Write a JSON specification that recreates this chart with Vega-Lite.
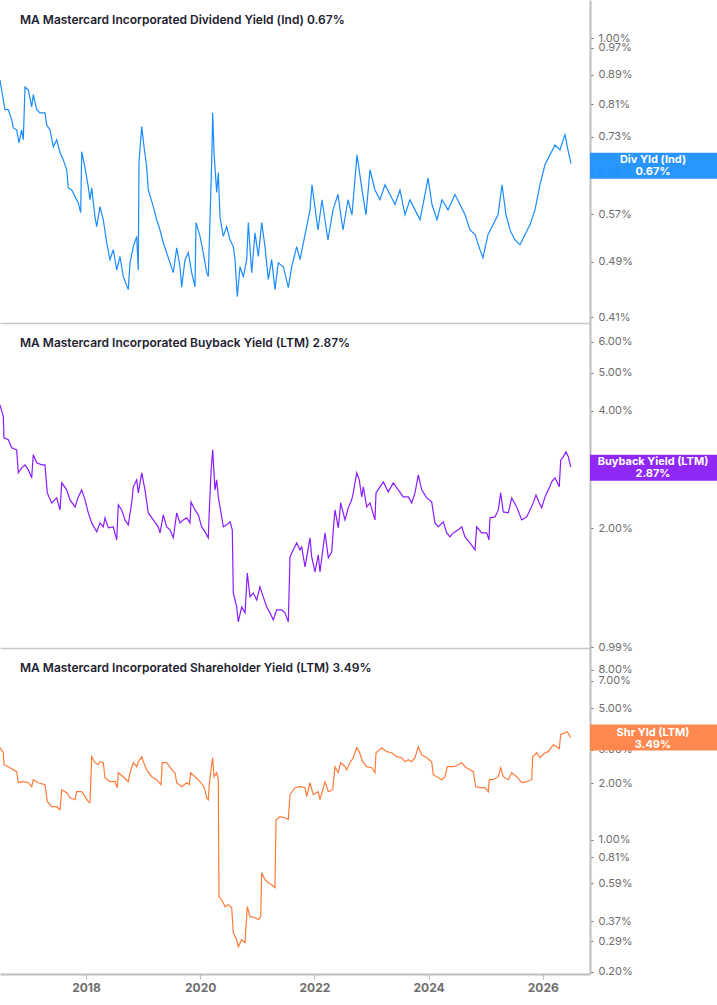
{
  "$schema": "https://vega.github.io/schema/vega-lite/v6.json",
  "padding": 0,
  "autosize": {"type": "pad"},
  "background": "white",
  "spacing": 0,
  "bounds": "flush",
  "config": {"view": {"stroke": null}, "font": "Inter"},
  "datasets": {
    "div": [
      {"t":2016.494,"v":0.875},{"t":2016.552,"v":0.821},{"t":2016.582,"v":0.796},{"t":2016.639,"v":0.796},{"t":2016.699,"v":0.771},{"t":2016.727,"v":0.751},{"t":2016.786,"v":0.746},{"t":2016.827,"v":0.716},{"t":2016.874,"v":0.746},{"t":2016.902,"v":0.723},{"t":2016.932,"v":0.856},{"t":2016.990,"v":0.848},{"t":2017.049,"v":0.803},{"t":2017.077,"v":0.835},{"t":2017.137,"v":0.796},{"t":2017.195,"v":0.788},{"t":2017.282,"v":0.788},{"t":2017.312,"v":0.758},{"t":2017.370,"v":0.746},{"t":2017.428,"v":0.707},{"t":2017.487,"v":0.723},{"t":2017.545,"v":0.694},{"t":2017.603,"v":0.678},{"t":2017.662,"v":0.657},{"t":2017.690,"v":0.620},{"t":2017.750,"v":0.616},{"t":2017.808,"v":0.603},{"t":2017.865,"v":0.591},{"t":2017.907,"v":0.573},{"t":2017.925,"v":0.696},{"t":2017.983,"v":0.661},{"t":2018.040,"v":0.622},{"t":2018.070,"v":0.597},{"t":2018.100,"v":0.620},{"t":2018.158,"v":0.565},{"t":2018.188,"v":0.548},{"t":2018.245,"v":0.584},{"t":2018.303,"v":0.560},{"t":2018.363,"v":0.520},{"t":2018.420,"v":0.493},{"t":2018.478,"v":0.509},{"t":2018.538,"v":0.477},{"t":2018.596,"v":0.498},{"t":2018.653,"v":0.467},{"t":2018.741,"v":0.448},{"t":2018.771,"v":0.488},{"t":2018.829,"v":0.514},{"t":2018.888,"v":0.531},{"t":2018.916,"v":0.477},{"t":2018.928,"v":0.672},{"t":2018.976,"v":0.754},{"t":2019.016,"v":0.707},{"t":2019.063,"v":0.663},{"t":2019.091,"v":0.616},{"t":2019.179,"v":0.584},{"t":2019.238,"v":0.560},{"t":2019.296,"v":0.542},{"t":2019.354,"v":0.520},{"t":2019.413,"v":0.504},{"t":2019.471,"v":0.488},{"t":2019.529,"v":0.473},{"t":2019.589,"v":0.512},{"t":2019.646,"v":0.482},{"t":2019.676,"v":0.452},{"t":2019.734,"v":0.493},{"t":2019.792,"v":0.504},{"t":2019.851,"v":0.473},{"t":2019.909,"v":0.452},{"t":2019.927,"v":0.555},{"t":2019.997,"v":0.531},{"t":2020.054,"v":0.504},{"t":2020.114,"v":0.473},{"t":2020.142,"v":0.467},{"t":2020.172,"v":0.560},{"t":2020.202,"v":0.678},{"t":2020.219,"v":0.788},{"t":2020.242,"v":0.694},{"t":2020.289,"v":0.611},{"t":2020.317,"v":0.651},{"t":2020.347,"v":0.565},{"t":2020.405,"v":0.531},{"t":2020.464,"v":0.548},{"t":2020.522,"v":0.525},{"t":2020.580,"v":0.514},{"t":2020.610,"v":0.493},{"t":2020.650,"v":0.438},{"t":2020.697,"v":0.482},{"t":2020.755,"v":0.467},{"t":2020.815,"v":0.493},{"t":2020.843,"v":0.555},{"t":2020.902,"v":0.473},{"t":2020.960,"v":0.537},{"t":2021.018,"v":0.498},{"t":2021.077,"v":0.555},{"t":2021.135,"v":0.514},{"t":2021.193,"v":0.463},{"t":2021.252,"v":0.493},{"t":2021.310,"v":0.448},{"t":2021.368,"v":0.488},{"t":2021.456,"v":0.482},{"t":2021.543,"v":0.451},{"t":2021.603,"v":0.482},{"t":2021.690,"v":0.514},{"t":2021.748,"v":0.493},{"t":2021.836,"v":0.534},{"t":2021.923,"v":0.578},{"t":2021.958,"v":0.626},{"t":2022.063,"v":0.542},{"t":2022.133,"v":0.597},{"t":2022.238,"v":0.525},{"t":2022.326,"v":0.578},{"t":2022.413,"v":0.607},{"t":2022.501,"v":0.542},{"t":2022.589,"v":0.597},{"t":2022.659,"v":0.569},{"t":2022.746,"v":0.689},{"t":2022.834,"v":0.616},{"t":2022.904,"v":0.569},{"t":2022.974,"v":0.657},{"t":2023.061,"v":0.616},{"t":2023.149,"v":0.597},{"t":2023.237,"v":0.626},{"t":2023.324,"v":0.607},{"t":2023.412,"v":0.588},{"t":2023.499,"v":0.616},{"t":2023.587,"v":0.569},{"t":2023.674,"v":0.597},{"t":2023.762,"v":0.578},{"t":2023.850,"v":0.560},{"t":2023.937,"v":0.607},{"t":2023.990,"v":0.640},{"t":2024.060,"v":0.588},{"t":2024.147,"v":0.560},{"t":2024.235,"v":0.597},{"t":2024.340,"v":0.578},{"t":2024.463,"v":0.607},{"t":2024.550,"v":0.588},{"t":2024.638,"v":0.569},{"t":2024.725,"v":0.542},{"t":2024.813,"v":0.534},{"t":2024.900,"v":0.509},{"t":2024.953,"v":0.496},{"t":2025.040,"v":0.534},{"t":2025.128,"v":0.551},{"t":2025.216,"v":0.569},{"t":2025.286,"v":0.626},{"t":2025.356,"v":0.569},{"t":2025.426,"v":0.542},{"t":2025.513,"v":0.525},{"t":2025.601,"v":0.517},{"t":2025.688,"v":0.534},{"t":2025.776,"v":0.551},{"t":2025.864,"v":0.578},{"t":2025.951,"v":0.626},{"t":2026.039,"v":0.668},{"t":2026.126,"v":0.689},{"t":2026.214,"v":0.711},{"t":2026.301,"v":0.700},{"t":2026.389,"v":0.735},{"t":2026.441,"v":0.700},{"t":2026.494,"v":0.670}
    ],
    "buy": [
      {"t":2016.494,"v":4.137},{"t":2016.552,"v":3.855},{"t":2016.564,"v":3.406},{"t":2016.639,"v":3.366},{"t":2016.699,"v":3.211},{"t":2016.786,"v":3.173},{"t":2016.815,"v":2.771},{"t":2016.874,"v":2.853},{"t":2016.932,"v":2.904},{"t":2016.990,"v":2.820},{"t":2017.049,"v":2.690},{"t":2017.077,"v":3.081},{"t":2017.137,"v":2.939},{"t":2017.224,"v":2.904},{"t":2017.282,"v":2.904},{"t":2017.322,"v":2.462},{"t":2017.399,"v":2.321},{"t":2017.487,"v":2.391},{"t":2017.545,"v":2.227},{"t":2017.575,"v":2.612},{"t":2017.662,"v":2.506},{"t":2017.720,"v":2.363},{"t":2017.808,"v":2.267},{"t":2017.865,"v":2.405},{"t":2017.925,"v":2.506},{"t":2017.983,"v":2.363},{"t":2018.040,"v":2.188},{"t":2018.100,"v":2.063},{"t":2018.188,"v":1.957},{"t":2018.245,"v":2.063},{"t":2018.303,"v":2.015},{"t":2018.333,"v":2.125},{"t":2018.391,"v":2.003},{"t":2018.478,"v":2.015},{"t":2018.538,"v":1.866},{"t":2018.566,"v":2.294},{"t":2018.625,"v":2.227},{"t":2018.683,"v":2.100},{"t":2018.741,"v":2.039},{"t":2018.800,"v":2.321},{"t":2018.829,"v":2.551},{"t":2018.888,"v":2.659},{"t":2018.916,"v":2.462},{"t":2018.976,"v":2.771},{"t":2019.033,"v":2.506},{"t":2019.091,"v":2.188},{"t":2019.179,"v":2.100},{"t":2019.266,"v":2.015},{"t":2019.296,"v":1.945},{"t":2019.354,"v":2.163},{"t":2019.413,"v":2.015},{"t":2019.471,"v":1.980},{"t":2019.529,"v":1.889},{"t":2019.589,"v":2.188},{"t":2019.646,"v":2.063},{"t":2019.704,"v":2.100},{"t":2019.764,"v":2.125},{"t":2019.822,"v":2.063},{"t":2019.839,"v":2.335},{"t":2019.909,"v":2.227},{"t":2019.967,"v":2.163},{"t":2020.026,"v":2.015},{"t":2020.084,"v":1.957},{"t":2020.142,"v":1.889},{"t":2020.160,"v":2.227},{"t":2020.189,"v":2.771},{"t":2020.219,"v":3.173},{"t":2020.259,"v":2.506},{"t":2020.289,"v":2.659},{"t":2020.317,"v":2.405},{"t":2020.347,"v":2.267},{"t":2020.405,"v":2.015},{"t":2020.464,"v":2.039},{"t":2020.522,"v":2.075},{"t":2020.562,"v":1.980},{"t":2020.580,"v":1.365},{"t":2020.639,"v":1.257},{"t":2020.667,"v":1.151},{"t":2020.727,"v":1.257},{"t":2020.785,"v":1.214},{"t":2020.825,"v":1.536},{"t":2020.872,"v":1.334},{"t":2020.930,"v":1.365},{"t":2020.990,"v":1.310},{"t":2021.047,"v":1.415},{"t":2021.105,"v":1.334},{"t":2021.165,"v":1.257},{"t":2021.223,"v":1.214},{"t":2021.280,"v":1.165},{"t":2021.340,"v":1.235},{"t":2021.428,"v":1.235},{"t":2021.485,"v":1.214},{"t":2021.543,"v":1.151},{"t":2021.573,"v":1.688},{"t":2021.631,"v":1.760},{"t":2021.690,"v":1.834},{"t":2021.748,"v":1.760},{"t":2021.778,"v":1.791},{"t":2021.836,"v":1.592},{"t":2021.923,"v":1.889},{"t":2021.953,"v":1.688},{"t":2022.011,"v":1.545},{"t":2022.068,"v":1.708},{"t":2022.098,"v":1.545},{"t":2022.186,"v":1.945},{"t":2022.244,"v":1.678},{"t":2022.303,"v":1.739},{"t":2022.331,"v":1.980},{"t":2022.361,"v":2.227},{"t":2022.419,"v":2.003},{"t":2022.461,"v":2.321},{"t":2022.536,"v":2.100},{"t":2022.594,"v":2.254},{"t":2022.653,"v":2.363},{"t":2022.681,"v":2.462},{"t":2022.741,"v":2.771},{"t":2022.786,"v":2.659},{"t":2022.829,"v":2.405},{"t":2022.857,"v":2.551},{"t":2022.916,"v":2.267},{"t":2022.974,"v":2.321},{"t":2023.061,"v":2.100},{"t":2023.079,"v":2.462},{"t":2023.149,"v":2.551},{"t":2023.207,"v":2.627},{"t":2023.294,"v":2.477},{"t":2023.382,"v":2.612},{"t":2023.470,"v":2.506},{"t":2023.557,"v":2.405},{"t":2023.645,"v":2.405},{"t":2023.704,"v":2.321},{"t":2023.762,"v":2.462},{"t":2023.820,"v":2.738},{"t":2023.879,"v":2.506},{"t":2023.967,"v":2.391},{"t":2024.054,"v":2.335},{"t":2024.112,"v":2.063},{"t":2024.170,"v":2.015},{"t":2024.258,"v":2.075},{"t":2024.317,"v":1.945},{"t":2024.375,"v":1.900},{"t":2024.433,"v":1.945},{"t":2024.520,"v":1.980},{"t":2024.580,"v":2.015},{"t":2024.638,"v":1.900},{"t":2024.725,"v":1.834},{"t":2024.813,"v":1.760},{"t":2024.843,"v":2.015},{"t":2024.930,"v":1.945},{"t":2025.018,"v":1.945},{"t":2025.058,"v":1.866},{"t":2025.075,"v":2.125},{"t":2025.163,"v":2.137},{"t":2025.221,"v":2.227},{"t":2025.263,"v":2.462},{"t":2025.308,"v":2.201},{"t":2025.396,"v":2.188},{"t":2025.456,"v":2.391},{"t":2025.543,"v":2.267},{"t":2025.631,"v":2.100},{"t":2025.718,"v":2.137},{"t":2025.776,"v":2.227},{"t":2025.834,"v":2.321},{"t":2025.881,"v":2.433},{"t":2025.939,"v":2.321},{"t":2025.981,"v":2.254},{"t":2026.039,"v":2.405},{"t":2026.097,"v":2.506},{"t":2026.156,"v":2.627},{"t":2026.214,"v":2.690},{"t":2026.289,"v":2.551},{"t":2026.314,"v":2.991},{"t":2026.359,"v":3.045},{"t":2026.406,"v":3.136},{"t":2026.447,"v":3.045},{"t":2026.489,"v":2.870}
    ],
    "shr": [
      {"t":2016.494,"v":3.085},{"t":2016.552,"v":2.902},{"t":2016.564,"v":2.507},{"t":2016.669,"v":2.417},{"t":2016.786,"v":2.302},{"t":2016.815,"v":2.012},{"t":2016.902,"v":2.037},{"t":2016.990,"v":2.012},{"t":2017.049,"v":1.916},{"t":2017.077,"v":2.087},{"t":2017.165,"v":2.012},{"t":2017.282,"v":1.964},{"t":2017.322,"v":1.596},{"t":2017.399,"v":1.501},{"t":2017.487,"v":1.501},{"t":2017.545,"v":1.447},{"t":2017.575,"v":1.847},{"t":2017.662,"v":1.781},{"t":2017.720,"v":1.675},{"t":2017.808,"v":1.635},{"t":2017.837,"v":1.803},{"t":2017.925,"v":1.803},{"t":2017.983,"v":1.696},{"t":2018.040,"v":1.596},{"t":2018.070,"v":1.576},{"t":2018.100,"v":2.764},{"t":2018.158,"v":2.569},{"t":2018.216,"v":2.507},{"t":2018.245,"v":2.600},{"t":2018.303,"v":2.569},{"t":2018.333,"v":2.139},{"t":2018.420,"v":2.037},{"t":2018.508,"v":2.037},{"t":2018.548,"v":1.893},{"t":2018.566,"v":2.273},{"t":2018.653,"v":2.165},{"t":2018.741,"v":2.037},{"t":2018.771,"v":2.273},{"t":2018.829,"v":2.569},{"t":2018.888,"v":2.446},{"t":2018.916,"v":2.600},{"t":2018.976,"v":2.764},{"t":2019.004,"v":2.600},{"t":2019.063,"v":2.358},{"t":2019.151,"v":2.165},{"t":2019.238,"v":2.087},{"t":2019.314,"v":1.964},{"t":2019.336,"v":2.569},{"t":2019.413,"v":2.569},{"t":2019.501,"v":2.358},{"t":2019.559,"v":2.273},{"t":2019.589,"v":2.012},{"t":2019.676,"v":1.916},{"t":2019.764,"v":2.012},{"t":2019.809,"v":1.964},{"t":2019.834,"v":2.273},{"t":2019.909,"v":2.165},{"t":2019.997,"v":2.037},{"t":2020.067,"v":1.916},{"t":2020.114,"v":1.675},{"t":2020.142,"v":1.635},{"t":2020.160,"v":1.964},{"t":2020.189,"v":2.358},{"t":2020.219,"v":2.731},{"t":2020.242,"v":2.165},{"t":2020.289,"v":2.273},{"t":2020.317,"v":2.087},{"t":2020.329,"v":0.500},{"t":2020.377,"v":0.482},{"t":2020.435,"v":0.443},{"t":2020.492,"v":0.454},{"t":2020.552,"v":0.437},{"t":2020.580,"v":0.322},{"t":2020.639,"v":0.296},{"t":2020.667,"v":0.272},{"t":2020.727,"v":0.296},{"t":2020.785,"v":0.285},{"t":2020.825,"v":0.443},{"t":2020.872,"v":0.392},{"t":2020.960,"v":0.387},{"t":2021.018,"v":0.378},{"t":2021.060,"v":0.392},{"t":2021.077,"v":0.671},{"t":2021.135,"v":0.616},{"t":2021.193,"v":0.593},{"t":2021.252,"v":0.579},{"t":2021.310,"v":0.558},{"t":2021.328,"v":1.281},{"t":2021.398,"v":1.329},{"t":2021.485,"v":1.312},{"t":2021.543,"v":1.281},{"t":2021.573,"v":1.738},{"t":2021.660,"v":1.893},{"t":2021.748,"v":1.916},{"t":2021.836,"v":1.893},{"t":2021.865,"v":1.696},{"t":2021.923,"v":2.012},{"t":2021.981,"v":1.738},{"t":2022.068,"v":1.803},{"t":2022.098,"v":1.635},{"t":2022.186,"v":2.037},{"t":2022.244,"v":1.803},{"t":2022.321,"v":1.847},{"t":2022.361,"v":2.446},{"t":2022.419,"v":2.273},{"t":2022.461,"v":2.569},{"t":2022.536,"v":2.446},{"t":2022.566,"v":2.358},{"t":2022.624,"v":2.569},{"t":2022.681,"v":2.731},{"t":2022.741,"v":3.085},{"t":2022.786,"v":2.938},{"t":2022.846,"v":2.600},{"t":2022.916,"v":2.446},{"t":2023.004,"v":2.417},{"t":2023.061,"v":2.273},{"t":2023.079,"v":2.902},{"t":2023.179,"v":3.085},{"t":2023.266,"v":2.938},{"t":2023.354,"v":2.902},{"t":2023.441,"v":2.764},{"t":2023.529,"v":2.731},{"t":2023.587,"v":2.600},{"t":2023.645,"v":2.665},{"t":2023.704,"v":2.600},{"t":2023.762,"v":2.731},{"t":2023.820,"v":3.123},{"t":2023.879,"v":2.832},{"t":2023.967,"v":2.731},{"t":2024.054,"v":2.600},{"t":2024.082,"v":2.218},{"t":2024.170,"v":2.139},{"t":2024.230,"v":2.087},{"t":2024.287,"v":2.165},{"t":2024.328,"v":2.446},{"t":2024.433,"v":2.446},{"t":2024.520,"v":2.507},{"t":2024.580,"v":2.569},{"t":2024.638,"v":2.446},{"t":2024.725,"v":2.358},{"t":2024.783,"v":2.302},{"t":2024.825,"v":1.916},{"t":2024.900,"v":1.893},{"t":2024.988,"v":1.893},{"t":2025.046,"v":1.803},{"t":2025.063,"v":2.087},{"t":2025.133,"v":2.087},{"t":2025.221,"v":2.165},{"t":2025.263,"v":2.417},{"t":2025.308,"v":2.165},{"t":2025.396,"v":2.087},{"t":2025.456,"v":2.273},{"t":2025.543,"v":2.165},{"t":2025.631,"v":2.012},{"t":2025.718,"v":2.037},{"t":2025.806,"v":2.087},{"t":2025.823,"v":2.764},{"t":2025.893,"v":2.902},{"t":2025.951,"v":2.731},{"t":2026.039,"v":2.902},{"t":2026.097,"v":2.938},{"t":2026.184,"v":3.200},{"t":2026.244,"v":3.123},{"t":2026.289,"v":3.048},{"t":2026.314,"v":3.616},{"t":2026.389,"v":3.705},{"t":2026.429,"v":3.751},{"t":2026.489,"v":3.486}
    ]
  },
  "vconcat": [
    {
      "width": 590,
      "height": 323,
      "title": {"text": "MA   Mastercard Incorporated   Dividend Yield (Ind)   0.67%", "anchor": "start", "frame": "group", "orient": "top", "offset": -27, "dx": 20, "font": "Inter", "fontSize": 12, "fontWeight": 600, "color": "#1d2130"},
      "encoding": {
        "y": {"field": "v", "type": "quantitative",
          "scale": {"type": "log", "domain": [0.4027, 1.13], "nice": false, "zero": false},
          "axis": {"orient": "right", "title": null, "grid": false, "values": [0.41, 0.49, 0.57, 0.65, 0.73, 0.81, 0.89, 0.97, 1.0], "labelExpr": "format(datum.value, '.2f') + '%'", "domainColor": "#bdbdbd", "domainWidth": 2, "tickColor": "#777777", "tickSize": 3, "labelColor": "#6e6e6e", "labelFont": "Inter", "labelFontSize": 11, "labelPadding": 5, "labelOverlap": false, "labelFlush": false, "labelBound": false}}
      },
      "layer": [
        {
          "data": {"name": "div"},
          "mark": {"type": "line", "color": "#1a8cff", "strokeWidth": 1.2, "clip": true},
          "encoding": {
            "x": {"field": "t", "type": "quantitative", "scale": {"domain": [2016.494, 2026.827], "nice": false, "zero": false},
              "axis": {"title": null, "labels": false, "ticks": false, "grid": false, "domainColor": "#c8c8c8", "domainWidth": 1.5}}
          }
        },
        {
          "data": {"values": [{"label": "Div Yld (Ind)\n0.67%", "v": 0.67}]},
          "mark": {"type": "point", "shape": "M0,-11L130,-11L130,15L0,15Z", "size": 4, "filled": true, "color": "#1e8fff", "opacity": 0.95},
          "encoding": {"x": {"value": "width"}}
        },
        {
          "data": {"values": [{"label": "Div Yld (Ind)\n0.67%", "v": 0.67}]},
          "mark": {"type": "text", "align": "center", "baseline": "middle", "dx": 63, "dy": -4, "lineBreak": "\n", "lineHeight": 12, "color": "white", "font": "Inter", "fontSize": 11, "fontWeight": "bold"},
          "encoding": {"x": {"value": "width"}, "text": {"field": "label"}}
        }
      ]
    },
    {
      "width": 590,
      "height": 325,
      "title": {"text": "MA   Mastercard Incorporated   Buyback Yield (LTM)   2.87%", "anchor": "start", "frame": "group", "orient": "top", "offset": -27, "dx": 20, "font": "Inter", "fontSize": 12, "fontWeight": 600, "color": "#1d2130"},
      "encoding": {
        "y": {"field": "v", "type": "quantitative",
          "scale": {"type": "log", "domain": [0.987, 6.70], "nice": false, "zero": false},
          "axis": {"orient": "right", "title": null, "grid": false, "values": [0.99, 2, 4, 5, 6], "labelExpr": "format(datum.value, '.2f') + '%'", "domainColor": "#bdbdbd", "domainWidth": 2, "tickColor": "#777777", "tickSize": 3, "labelColor": "#6e6e6e", "labelFont": "Inter", "labelFontSize": 11, "labelPadding": 5, "labelOverlap": false, "labelFlush": false, "labelBound": false}}
      },
      "layer": [
        {
          "data": {"name": "buy"},
          "mark": {"type": "line", "color": "#8a1cff", "strokeWidth": 1.2, "clip": true},
          "encoding": {
            "x": {"field": "t", "type": "quantitative", "scale": {"domain": [2016.494, 2026.827], "nice": false, "zero": false},
              "axis": {"title": null, "labels": false, "ticks": false, "grid": false, "domainColor": "#c8c8c8", "domainWidth": 1.5}}
          }
        },
        {
          "data": {"values": [{"label": "Buyback Yield (LTM)\n2.87%", "v": 2.87}]},
          "mark": {"type": "point", "shape": "M0,-12L130,-12L130,14L0,14Z", "size": 4, "filled": true, "color": "#8a1cf5", "opacity": 0.95},
          "encoding": {"x": {"value": "width"}}
        },
        {
          "data": {"values": [{"label": "Buyback Yield (LTM)\n2.87%", "v": 2.87}]},
          "mark": {"type": "text", "align": "center", "baseline": "middle", "dx": 63, "dy": -5, "lineBreak": "\n", "lineHeight": 12, "color": "white", "font": "Inter", "fontSize": 11, "fontWeight": "bold"},
          "encoding": {"x": {"value": "width"}, "text": {"field": "label"}}
        }
      ]
    },
    {
      "width": 590,
      "height": 326,
      "title": {"text": "MA   Mastercard Incorporated   Shareholder Yield (LTM)   3.49%", "anchor": "start", "frame": "group", "orient": "top", "offset": -27, "dx": 20, "font": "Inter", "fontSize": 12, "fontWeight": 600, "color": "#1d2130"},
      "encoding": {
        "y": {"field": "v", "type": "quantitative",
          "scale": {"type": "log", "domain": [0.1947, 10.42], "nice": false, "zero": false},
          "axis": {"orient": "right", "title": null, "grid": false, "values": [0.2, 0.29, 0.37, 0.59, 0.81, 1, 2, 3, 5, 7, 8], "labelExpr": "format(datum.value, '.2f') + '%'", "domainColor": "#bdbdbd", "domainWidth": 2, "tickColor": "#777777", "tickSize": 3, "labelColor": "#6e6e6e", "labelFont": "Inter", "labelFontSize": 11, "labelPadding": 5, "labelOverlap": false, "labelFlush": false, "labelBound": false}}
      },
      "layer": [
        {
          "data": {"name": "shr"},
          "mark": {"type": "line", "color": "#ff7b3a", "strokeWidth": 1.2, "clip": true},
          "encoding": {
            "x": {"field": "t", "type": "quantitative", "scale": {"domain": [2016.494, 2026.827], "nice": false, "zero": false},
              "axis": {"title": null, "values": [2018, 2020, 2022, 2024, 2026], "format": "d", "grid": false, "domainColor": "#bdbdbd", "domainWidth": 2, "tickColor": "#bdbdbd", "tickSize": 5, "labelColor": "#6e6e6e", "labelFont": "Inter", "labelFontSize": 12, "labelFontWeight": "bold", "labelPadding": 3, "labelFlush": false}}
          }
        },
        {
          "data": {"values": [{"label": "Shr Yld (LTM)\n3.49%", "v": 3.49}]},
          "mark": {"type": "point", "shape": "M0,-13L130,-13L130,13L0,13Z", "size": 4, "filled": true, "color": "#ff8247", "opacity": 0.95},
          "encoding": {"x": {"value": "width"}}
        },
        {
          "data": {"values": [{"label": "Shr Yld (LTM)\n3.49%", "v": 3.49}]},
          "mark": {"type": "text", "align": "center", "baseline": "middle", "dx": 63, "dy": -5, "lineBreak": "\n", "lineHeight": 12, "color": "white", "font": "Inter", "fontSize": 11, "fontWeight": "bold"},
          "encoding": {"x": {"value": "width"}, "text": {"field": "label"}}
        }
      ]
    }
  ]
}
